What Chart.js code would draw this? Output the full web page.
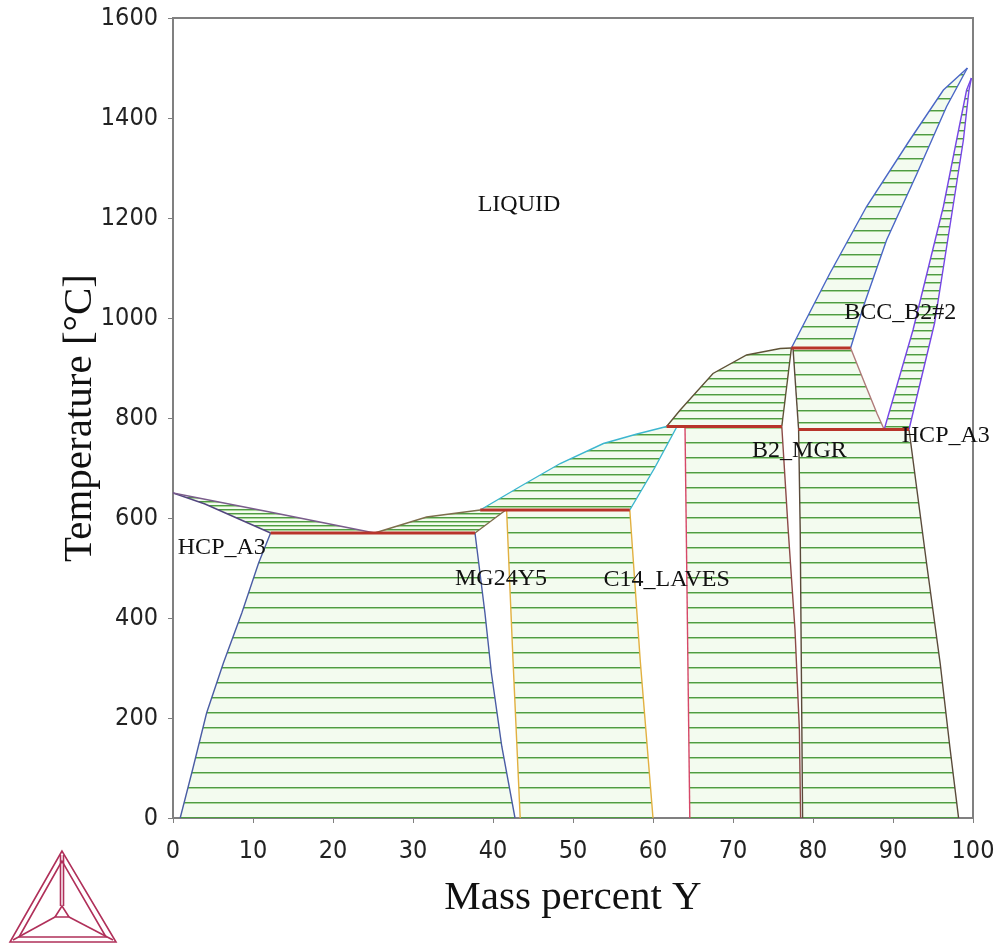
<!DOCTYPE html>
<html>
<head>
<meta charset="utf-8">
<script src="https://cdn.jsdelivr.net/npm/chart.js@4.4.1/dist/chart.umd.min.js"></script>
<style>
  html, body { margin: 0; padding: 0; background: #fff; }
  canvas { display: block; }
</style>
</head>
<body>
<canvas id="chart" width="998" height="945"></canvas>
<script>
// axis ticks
const xTickValues = [0, 10, 20, 30, 40, 50, 60, 70, 80, 90, 100];
const yTickValues = [0, 200, 400, 600, 800, 1000, 1200, 1400, 1600];

// phase boundaries, [mass percent Y, temperature C]
const mgLiquidus = [[0, 650], [12.1, 612], [25.2, 570]];
const hcpMgSolidus = [[0, 650], [4, 628], [12.2, 570]];
const hcpMgSolvus = [[12.2, 570], [10.7, 510], [8.6, 410], [6.3, 310], [4.2, 210], [2.5, 100], [0.9, 0]];
const mg24Liquidus = [[25.2, 570], [31.7, 602], [38.4, 616]];
const mg24Solidus = [[37.75, 570], [41.6, 616]];
const mg24SolvusLeft = [[37.75, 570], [39.0, 409], [39.8, 290], [41.1, 143], [42.75, 0]];
const mg24SolvusRight = [[41.7, 616], [42.5, 316], [43.4, 0]];
const c14Liquidus = [[38.4, 616], [43.4, 663], [48.4, 709], [53.8, 749], [58.0, 768], [61.7, 783]];
const c14Solidus = [[57.1, 616], [60.2, 700], [63.0, 783]];
const c14SolvusLeft = [[57.1, 616], [58.4, 316], [60.0, 0]];
const c14SolvusRight = [[64.0, 783], [64.6, 0]];
const b2Liquidus = [[61.7, 783], [63.4, 816], [67.5, 889], [71.7, 926], [75.9, 939], [77.3, 940]];
const b2Solidus = [[77.3, 940], [76.1, 783]];
const b2SolvusLeft = [[76.1, 783], [76.9, 576], [77.75, 376], [78.3, 176], [78.45, 0]];
const b2SolvusUpper = [[77.5, 940], [78.2, 777]];
const b2SolvusLower = [[78.2, 777], [78.4, 576], [78.7, 0]];
const bccLiquidus = [[77.3, 940], [82.1, 1089], [86.7, 1223], [92.1, 1356], [96.3, 1456], [99.3, 1500]];
const bccSolidus = [[84.7, 940], [86.3, 1023], [89.2, 1156], [93.0, 1289], [96.7, 1423], [99.3, 1500]];
const bccSolvusLow = [[84.7, 940], [86.3, 876], [88.0, 809], [88.9, 777]];
const bccHcpLeft = [[88.9, 777], [92.5, 976], [96.3, 1223], [97.95, 1356], [99.2, 1456], [99.8, 1480]];
const bccHcpRight = [[92.0, 777], [95.2, 990], [97.5, 1223], [98.8, 1356], [99.5, 1456], [99.8, 1480]];
const hcpYSolvus = [[92.0, 777], [94.2, 509], [95.9, 309], [97.1, 143], [98.2, 0]];

// invariant reactions
const eutectic570 = [[12.2, 570], [37.75, 570]];
const peritectic616 = [[38.4, 616], [57.1, 616]];
const peritectic783 = [[61.7, 783], [76.1, 783]];
const peritectic940 = [[77.3, 940], [84.7, 940]];
const eutectoid777 = [[78.2, 777], [92.0, 777]];

// phase labels
const labelTexts = ["LIQUID", "HCP_A3", "MG24Y5", "C14_LAVES", "B2_MGR", "BCC_B2#2", "HCP_A3"];
const labelX = [43.25, 6.1, 41.0, 61.7, 78.3, 90.9, 96.6];
const labelY = [1226, 541, 479, 476, 734, 1010, 764];

const rev = (a) => a.slice().reverse();
const toXY = (pts) => pts.map((p) => ({ x: p[0], y: p[1] }));

// horizontal tie-line hatching, anchored to canvas rows
function hatch(step, offset) {
  const c = document.createElement("canvas");
  c.width = 4;
  c.height = step;
  const g = c.getContext("2d");
  g.fillStyle = "#f3fbef";
  g.fillRect(0, 0, 4, step);
  g.fillStyle = "#4f9a43";
  g.fillRect(0, offset % step, 4, 1);
  g.fillStyle = "#a7d697";
  g.fillRect(0, (offset + 1) % step, 4, 1);
  return g.createPattern(c, "repeat");
}
const sparse = hatch(15, 7);
const medium = hatch(8, 2);
const dense = hatch(4, 1);
const wide = hatch(12, 2);

const regions = [
  { poly: [...mgLiquidus, ...rev(hcpMgSolidus)], fill: dense },
  { poly: [...eutectic570, ...mg24SolvusLeft.slice(1), ...rev(hcpMgSolvus)], fill: sparse },
  { poly: [...mg24Liquidus, ...rev(mg24Solidus)], fill: dense },
  { poly: [...mg24SolvusRight, ...rev(c14SolvusLeft)], fill: sparse },
  { poly: [...c14Liquidus, ...rev(c14Solidus)], fill: medium },
  { poly: [...c14SolvusRight, ...rev(b2SolvusLeft)], fill: sparse },
  { poly: [...b2Liquidus, ...b2Solidus], fill: medium },
  { poly: [...bccSolvusLow, ...rev(b2SolvusUpper)], fill: wide },
  { poly: [...b2SolvusLower, ...rev(hcpYSolvus)], fill: sparse },
  { poly: [...bccLiquidus, ...rev(bccSolidus)], fill: wide },
  { poly: [...bccHcpLeft, ...rev(bccHcpRight)], fill: medium },
];

const boundaries = [
  [mgLiquidus, "#7a5c8c"],
  [hcpMgSolidus, "#52457f"],
  [hcpMgSolvus, "#4a5ca4"],
  [mg24Liquidus, "#7d6e4c"],
  [mg24Solidus, "#7d6e4c"],
  [mg24SolvusLeft, "#4a5ca4"],
  [mg24SolvusRight, "#e2b040"],
  [c14SolvusLeft, "#e2b040"],
  [c14Liquidus, "#3cb6d0"],
  [c14Solidus, "#3cb6d0"],
  [c14SolvusRight, "#d64868"],
  [b2Liquidus, "#5e5236"],
  [b2Solidus, "#5e5236"],
  [b2SolvusLeft, "#8c4a48"],
  [b2SolvusUpper, "#5a4a3a"],
  [b2SolvusLower, "#5a4a3a"],
  [bccSolvusLow, "#b07a7a"],
  [bccLiquidus, "#4a66c6"],
  [bccSolidus, "#4a66c6"],
  [bccHcpLeft, "#7646e6"],
  [bccHcpRight, "#7646e6"],
  [hcpYSolvus, "#5a4a3a"],
];
const invariants = [eutectic570, peritectic616, peritectic783, peritectic940, eutectoid777];

const datasets = [];
invariants.forEach((pts) => {
  datasets.push({
    data: toXY(pts),
    showLine: true,
    borderColor: "#b8342a",
    borderWidth: 3,
    pointRadius: 0,
    order: 1,
  });
});
boundaries.forEach(([pts, color]) => {
  datasets.push({
    data: toXY(pts),
    showLine: true,
    borderColor: color,
    borderWidth: 1.4,
    pointRadius: 0,
    order: 2,
  });
});
regions.forEach((r) => {
  datasets.push({
    data: toXY([...r.poly, r.poly[0]]),
    showLine: true,
    borderColor: "rgba(0,0,0,0)",
    borderWidth: 0,
    backgroundColor: r.fill,
    fill: "shape",
    pointRadius: 0,
    order: 3,
  });
});

// frame, phase labels and the logo
const decorPlugin = {
  id: "decor",
  afterDatasetsDraw(chart) {
    const { ctx, chartArea, scales } = chart;
    ctx.save();
    ctx.strokeStyle = "#808080";
    ctx.lineWidth = 2;
    ctx.beginPath();
    ctx.moveTo(chartArea.left, chartArea.top);
    ctx.lineTo(chartArea.right, chartArea.top);
    ctx.lineTo(chartArea.right, chartArea.bottom);
    ctx.stroke();

    ctx.fillStyle = "#111";
    ctx.font = '24px "Liberation Serif", "Times New Roman", serif';
    ctx.textAlign = "center";
    ctx.textBaseline = "middle";
    labelTexts.forEach((t, i) => {
      ctx.fillText(t, scales.x.getPixelForValue(labelX[i]), scales.y.getPixelForValue(labelY[i]));
    });
    ctx.restore();
  },
  afterDraw(chart) {
    const ctx = chart.ctx;
    ctx.save();
    ctx.strokeStyle = "#b0305a";
    ctx.lineWidth = 1.6;
    const tri = (pts) => {
      ctx.beginPath();
      ctx.moveTo(pts[0][0], pts[0][1]);
      ctx.lineTo(pts[1][0], pts[1][1]);
      ctx.lineTo(pts[2][0], pts[2][1]);
      ctx.closePath();
      ctx.stroke();
    };
    const seg = (a, b) => {
      ctx.beginPath();
      ctx.moveTo(a[0], a[1]);
      ctx.lineTo(b[0], b[1]);
      ctx.stroke();
    };
    tri([[62, 851], [10, 942], [116, 942]]);
    tri([[62, 861], [19, 937], [106, 937]]);
    tri([[62, 906], [55, 917], [69, 917]]);
    seg([60.5, 855], [60.5, 906]);
    seg([63.5, 855], [63.5, 906]);
    seg([13, 940], [55, 917]);
    seg([113, 940], [69, 917]);
    ctx.restore();
  },
};

const tickFont = { family: '"Liberation Sans Narrow", "DejaVu Sans Condensed", sans-serif', size: 25 };
const titleFont = { family: '"Liberation Serif", "Times New Roman", serif', size: 41 };

new Chart(document.getElementById("chart"), {
  type: "scatter",
  data: { datasets },
  plugins: [decorPlugin],
  options: {
    responsive: false,
    animation: false,
    events: [],
    layout: { padding: { top: 18, right: 25, left: 0, bottom: 0 } },
    plugins: { legend: { display: false }, tooltip: { enabled: false } },
    scales: {
      x: {
        type: "linear",
        min: 0,
        max: 100,
        afterBuildTicks: (s) => { s.ticks = xTickValues.map((v) => ({ value: v })); },
        afterFit: (s) => { s.height = 127; s.paddingLeft = 0; s.paddingRight = 0; },
        ticks: { color: "#222", padding: 13, maxRotation: 0, font: tickFont, callback: (v) => String(v) },
        grid: { drawOnChartArea: false, tickLength: 5, color: "#808080" },
        border: { color: "#808080", width: 2 },
        title: {
          display: true,
          text: "Mass percent Y",
          color: "#111",
          font: titleFont,
          padding: { top: 0, bottom: 22 },
        },
      },
      y: {
        type: "linear",
        min: 0,
        max: 1600,
        afterBuildTicks: (s) => { s.ticks = yTickValues.map((v) => ({ value: v })); },
        afterFit: (s) => { s.width = 173; s.paddingTop = 0; s.paddingBottom = 0; },
        ticks: { color: "#222", padding: 10, font: tickFont, callback: (v) => String(v) },
        grid: { drawOnChartArea: false, tickLength: 5, color: "#808080" },
        border: { color: "#808080", width: 2 },
        title: {
          display: true,
          text: "Temperature [°C]",
          color: "#111",
          font: titleFont,
          padding: { top: 56, bottom: 0 },
        },
      },
    },
  },
});
</script>
</body>
</html>
